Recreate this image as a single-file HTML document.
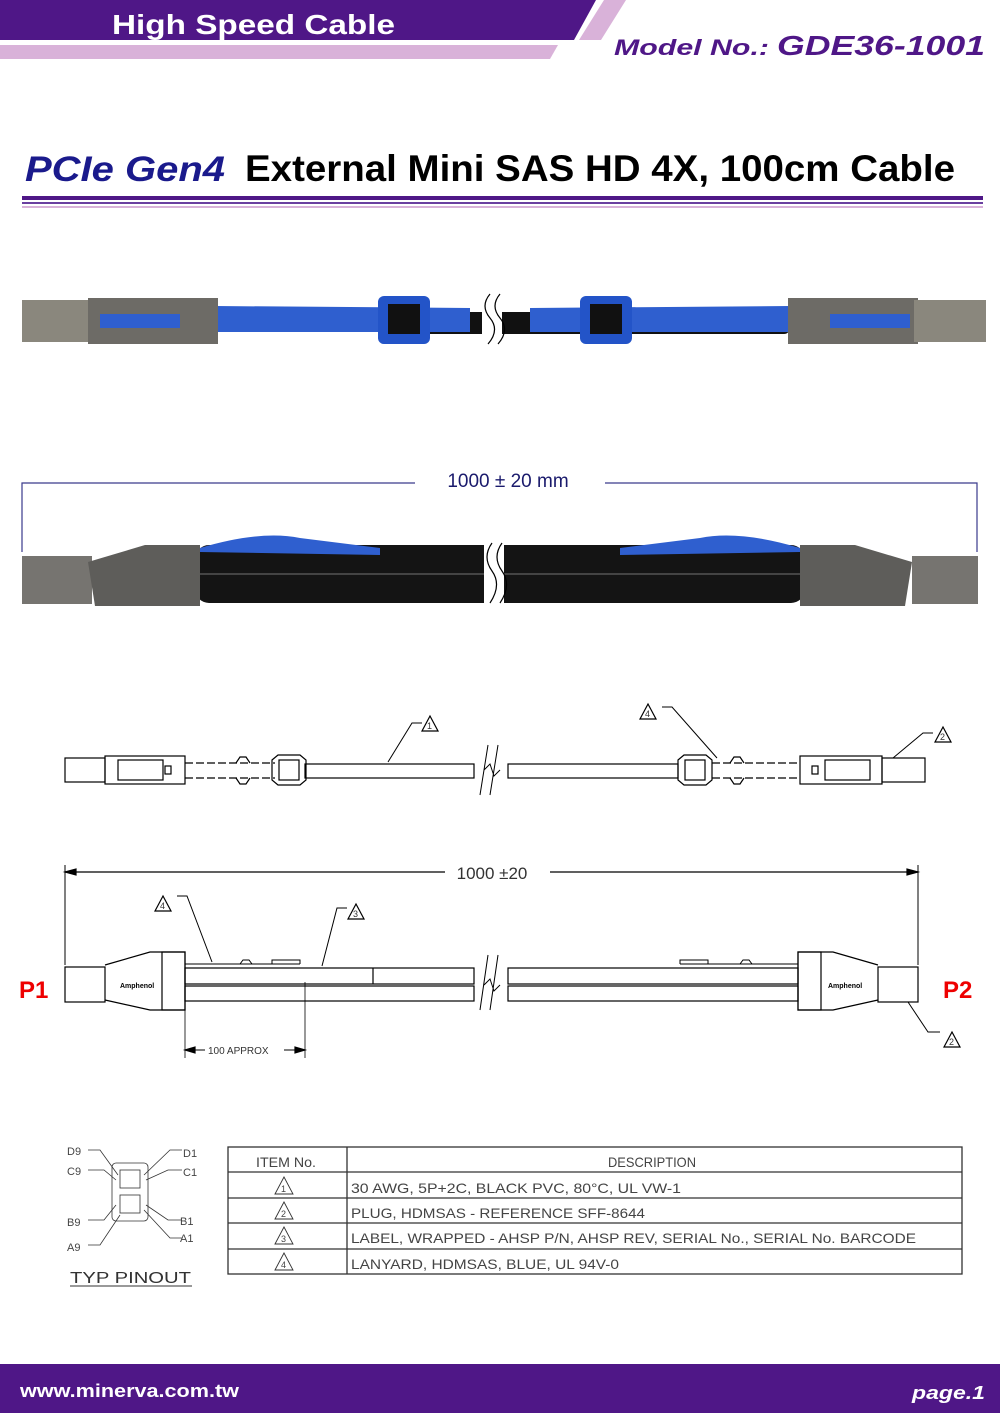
<!DOCTYPE html>
<html><head><meta charset="utf-8"><style>
html,body{margin:0;padding:0;background:#fff}
svg{display:block}
text{font-family:"Liberation Sans",sans-serif}
.d{font-family:"Liberation Sans",sans-serif;font-size:12px;fill:#333}
</style></head><body>
<svg width="1000" height="1413" viewBox="0 0 1000 1413" xmlns="http://www.w3.org/2000/svg">
<!-- header -->
<polygon points="0,0 596,0 574,40 0,40" fill="#4f1787"/>
<polygon points="604,0 626,0 601,40 579,40" fill="#d9b2d9"/>
<polygon points="0,45 558,45 550,59 0,59" fill="#d9b2d9"/>
<text x="112" y="34" font-size="28" font-weight="bold" fill="#fff" textLength="283" lengthAdjust="spacingAndGlyphs">High Speed Cable</text>
<text x="614" y="55" font-size="22" font-weight="bold" font-style="italic" fill="#4f1787" textLength="155" lengthAdjust="spacingAndGlyphs">Model No.:</text>
<text x="777" y="55" font-size="28" font-weight="bold" font-style="italic" fill="#4f1787" textLength="208" lengthAdjust="spacingAndGlyphs">GDE36-1001</text>
<!-- title -->
<text x="25" y="181" font-size="35" font-weight="bold" font-style="italic" fill="#1a1a8c" textLength="200" lengthAdjust="spacingAndGlyphs">PCIe Gen4</text>
<text x="245" y="181" font-size="37" font-weight="bold" fill="#000" textLength="710" lengthAdjust="spacingAndGlyphs">External Mini SAS HD 4X, 100cm Cable</text>
<rect x="22" y="196" width="961" height="4" fill="#4f1787"/>
<rect x="22" y="202" width="961" height="2" fill="#6a3fa0"/>
<rect x="22" y="206" width="961" height="2" fill="#d9b2d9"/>

<!-- photo 1 -->
<g>
<rect x="400" y="312" width="390" height="22" fill="#111" rx="6"/>
<polygon points="215,306 470,308 470,332 215,332" fill="#2f5fcf"/>
<polygon points="530,308 790,306 790,332 530,332" fill="#2f5fcf"/>
<rect x="22" y="300" width="70" height="42" fill="#8a877d"/>
<rect x="88" y="298" width="130" height="46" fill="#6d6b66"/>
<rect x="100" y="314" width="80" height="14" fill="#2f5fcf"/>
<rect x="378" y="296" width="52" height="48" rx="6" fill="#2354c8"/>
<rect x="388" y="304" width="32" height="30" fill="#111"/>
<rect x="580" y="296" width="52" height="48" rx="6" fill="#2354c8"/>
<rect x="590" y="304" width="32" height="30" fill="#111"/>
<rect x="788" y="298" width="130" height="46" fill="#6d6b66"/>
<rect x="830" y="314" width="80" height="14" fill="#2f5fcf"/>
<rect x="914" y="300" width="72" height="42" fill="#8a877d"/>
<rect x="482" y="292" width="20" height="56" fill="#fff"/>
<path d="M490,294 q-10,12 0,24 q10,12 -2,26 M500,294 q-10,12 0,24 q10,12 -2,26" stroke="#000" fill="none" stroke-width="1.2"/>
</g>

<!-- photo 2 -->
<g>
<path d="M22,552 V483 H415 M605,483 H977 V552" stroke="#3a3a8c" fill="none" stroke-width="1.2"/>
<text x="508" y="487" font-size="19" fill="#1a1a6c" text-anchor="middle">1000 ± 20 mm</text>
<rect x="195" y="545" width="610" height="58" rx="14" fill="#141414"/>
<line x1="200" y1="574" x2="800" y2="574" stroke="#444" stroke-width="2"/>
<path d="M200,548 Q260,530 300,538 L380,548 L380,555 L200,552Z" fill="#2f5fcf"/>
<path d="M800,548 Q740,530 700,538 L620,548 L620,555 L800,552Z" fill="#2f5fcf"/>
<rect x="22" y="556" width="70" height="48" fill="#767470"/>
<polygon points="88,562 145,545 200,545 200,606 95,606" fill="#5e5d5a"/>
<rect x="912" y="556" width="66" height="48" fill="#767470"/>
<polygon points="912,562 855,545 800,545 800,606 905,606" fill="#5e5d5a"/>
<rect x="484" y="540" width="20" height="66" fill="#fff"/>
<path d="M492,543 q-10,14 0,28 q10,14 -2,32 M502,543 q-10,14 0,28 q10,14 -2,32" stroke="#000" fill="none" stroke-width="1.2"/>
</g>

<!-- drawing 1 -->
<g stroke="#000" fill="none" stroke-width="1.2">
<rect x="65" y="758" width="40" height="24"/>
<rect x="105" y="756" width="80" height="28"/>
<rect x="118" y="760" width="45" height="20"/>
<rect x="165" y="766" width="6" height="8"/>
<line x1="185" y1="763" x2="275" y2="763" stroke-dasharray="8,3"/>
<line x1="185" y1="778" x2="275" y2="778" stroke-dasharray="8,3"/>
<path d="M236,763 l4,-6 h6 l4,6 M236,778 l4,6 h6 l4,-6"/>
<path d="M272,760 l6,-5 h22 l6,5 v20 l-6,5 h-22 l-6,-5z"/>
<rect x="279" y="760" width="20" height="20"/>
<rect x="305" y="764" width="169" height="14"/>
<rect x="508" y="764" width="170" height="14"/>
<path d="M678,760 l6,-5 h22 l6,5 v20 l-6,5 h-22 l-6,-5z"/>
<rect x="685" y="760" width="20" height="20"/>
<line x1="712" y1="763" x2="800" y2="763" stroke-dasharray="8,3"/>
<line x1="712" y1="778" x2="800" y2="778" stroke-dasharray="8,3"/>
<path d="M730,763 l4,-6 h6 l4,6 M730,778 l4,6 h6 l4,-6"/>
<rect x="800" y="756" width="82" height="28"/>
<rect x="825" y="760" width="45" height="20"/>
<rect x="812" y="766" width="6" height="8"/>
<rect x="882" y="758" width="43" height="24"/>
<path d="M488,745 l-8,50 M498,745 l-8,50 M484,770 l6,-6 l4,12 l6,-6" stroke-width="1"/>
<path d="M388,762 L412,723 H422" stroke-width="1"/>
<polygon points="422,731 430,716 438,731"/>
<path d="M717,758 L672,707 H662" stroke-width="1"/>
<polygon points="640,719 648,704 656,719"/>
<path d="M893,758 L923,733 H933" stroke-width="1"/>
<polygon points="935,742 943,727 951,742"/>
</g>
<g class="d" font-size="9"><text x="427" y="729" font-size="9">1</text><text x="645" y="717" font-size="9">4</text><text x="940" y="740" font-size="9">2</text></g>

<!-- drawing 2 -->
<g stroke="#000" fill="none" stroke-width="1.2">
<path d="M65,965 V865 M918,965 V865" stroke-width="1"/>
<line x1="65" y1="872" x2="445" y2="872"/><line x1="550" y1="872" x2="918" y2="872"/>
<polygon points="65,872 76,869 76,875" fill="#000"/><polygon points="918,872 907,869 907,875" fill="#000"/>
<rect x="65" y="967" width="40" height="35"/>
<path d="M105,965 L150,952 H185 V1010 H150 L105,1000"/>
<rect x="162" y="952" width="23" height="58"/>
<rect x="185" y="968" width="289" height="16"/>
<rect x="185" y="986" width="289" height="15"/>
<line x1="373" y1="968" x2="373" y2="984"/>
<path d="M185,964 H300 M240,964 l3,-4 h6 l3,4 M272,964 v-4 h28 v4" stroke-width="1"/>
<rect x="508" y="968" width="290" height="16"/>
<rect x="508" y="986" width="290" height="15"/>
<path d="M798,964 H680 M740,964 l3,-4 h6 l3,4 M680,964 v-4 h28 v4" stroke-width="1"/>
<path d="M878,965 L833,952 H798 V1010 H833 L878,1000"/>
<rect x="798" y="952" width="23" height="58"/>
<rect x="878" y="967" width="40" height="35"/>
<path d="M488,955 l-8,55 M498,955 l-8,55 M484,985 l6,-6 l4,12 l6,-6" stroke-width="1"/>
<path d="M185,1000 V1058 M305,982 V1058" stroke-width="0.8"/>
<line x1="185" y1="1050" x2="205" y2="1050" stroke-width="1"/><line x1="284" y1="1050" x2="305" y2="1050" stroke-width="1"/>
<polygon points="185,1050 195,1047 195,1053" fill="#000"/><polygon points="305,1050 295,1047 295,1053" fill="#000"/>
<path d="M212,962 L187,896 H177" stroke-width="1"/>
<polygon points="155,911 163,896 171,911"/>
<path d="M322,966 L337,908 H347" stroke-width="1"/>
<polygon points="348,919 356,904 364,919"/>
<path d="M908,1002 L928,1032 H940" stroke-width="1"/>
<polygon points="944,1047 952,1032 960,1047"/>
</g>
<text x="492" y="879" font-size="17" fill="#333" text-anchor="middle">1000 ±20</text>
<text x="208" y="1054" font-size="10" fill="#333">100 APPROX</text>
<text x="120" y="988" font-size="7" font-weight="bold" fill="#000">Amphenol</text>
<text x="828" y="988" font-size="7" font-weight="bold" fill="#000">Amphenol</text>
<g class="d" font-size="9"><text x="160" y="909" font-size="9">4</text><text x="353" y="917" font-size="9">3</text><text x="949" y="1045" font-size="9">2</text></g>
<text x="19" y="998" font-size="24" font-weight="bold" fill="#e00">P1</text>
<text x="943" y="998" font-size="24" font-weight="bold" fill="#e00">P2</text>

<!-- pinout -->
<g stroke="#333" fill="none" stroke-width="0.8">
<rect x="112" y="1163" width="36" height="58" rx="4"/>
<rect x="120" y="1170" width="20" height="18"/><rect x="120" y="1195" width="20" height="18"/>
<path d="M88,1150 H100 L118,1175 M88,1170 H104 L116,1180 M182,1150 H170 L144,1175 M182,1170 H168 L146,1180 M88,1220 H104 L116,1205 M88,1245 H100 L120,1215 M182,1220 H168 L146,1205 M182,1238 H170 L144,1210"/>
</g>
<g font-size="11" fill="#444"><text x="67" y="1155">D9</text><text x="67" y="1175">C9</text><text x="67" y="1226">B9</text><text x="67" y="1251">A9</text>
<text x="183" y="1157">D1</text><text x="183" y="1176">C1</text><text x="180" y="1225">B1</text><text x="180" y="1242">A1</text></g>
<text x="70" y="1283" font-size="16" fill="#333" textLength="121" lengthAdjust="spacingAndGlyphs">TYP PINOUT</text>
<line x1="70" y1="1286" x2="192" y2="1286" stroke="#333"/>

<!-- table -->
<g stroke="#333" fill="none" stroke-width="1.3">
<rect x="228" y="1147" width="734" height="127"/>
<path d="M347,1147 V1274 M228,1172 H962 M228,1198 H962 M228,1223 H962 M228,1249 H962"/>
<g stroke-width="0.9"><polygon points="275,1194 284,1177 293,1194"/><polygon points="275,1219 284,1202 293,1219"/><polygon points="275,1244 284,1227 293,1244"/><polygon points="275,1270 284,1253 293,1270"/></g>
</g>
<g font-size="14" fill="#444" lengthAdjust="spacingAndGlyphs">
<text x="256" y="1167" textLength="60" lengthAdjust="spacingAndGlyphs">ITEM No.</text><text x="608" y="1167" textLength="88" lengthAdjust="spacingAndGlyphs">DESCRIPTION</text>
<text x="281" y="1192" font-size="9">1</text><text x="281" y="1217" font-size="9">2</text><text x="281" y="1242" font-size="9">3</text><text x="281" y="1268" font-size="9">4</text>
<text x="351" y="1193" textLength="330" lengthAdjust="spacingAndGlyphs">30 AWG, 5P+2C, BLACK PVC, 80°C, UL VW-1</text>
<text x="351" y="1218" textLength="294" lengthAdjust="spacingAndGlyphs">PLUG, HDMSAS - REFERENCE SFF-8644</text>
<text x="351" y="1243" textLength="565" lengthAdjust="spacingAndGlyphs">LABEL, WRAPPED - AHSP P/N, AHSP REV, SERIAL No., SERIAL No. BARCODE</text>
<text x="351" y="1269" textLength="268" lengthAdjust="spacingAndGlyphs">LANYARD, HDMSAS, BLUE, UL 94V-0</text>
</g>

<!-- footer -->
<rect x="0" y="1364" width="1000" height="49" fill="#4f1787"/>
<text x="20" y="1397" font-size="18" font-weight="bold" fill="#fff" textLength="219" lengthAdjust="spacingAndGlyphs">www.minerva.com.tw</text>
<text x="912" y="1399" font-size="18" font-weight="bold" font-style="italic" fill="#fff" textLength="73" lengthAdjust="spacingAndGlyphs">page.1</text>
</svg>
</body></html>
